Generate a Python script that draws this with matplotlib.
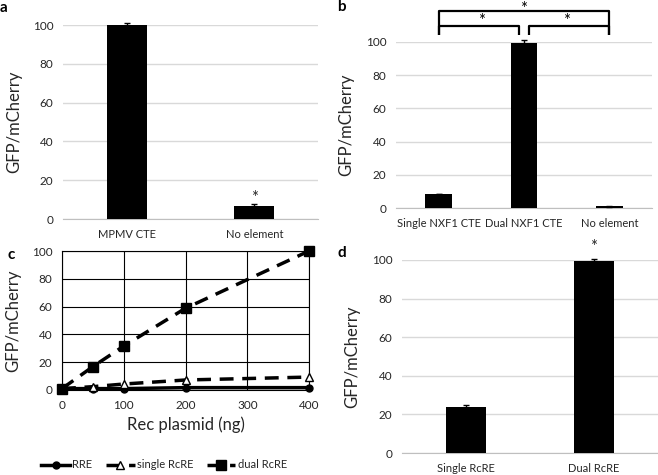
import matplotlib
matplotlib.use('Agg')
import matplotlib.pyplot as plt
import numpy as np

plt.rcParams['font.family'] = ['Lato', 'DejaVu Sans']

# Données des quatre panneaux
a_labels = ['MPMV CTE', 'No element']
a_values = [100, 6.5]
a_err = [0.8, 1.0]

b_labels = ['Single NXF1 CTE', 'Dual NXF1 CTE', 'No element']
b_values = [8.5, 99.5, 1.2]
b_err = [0.2, 1.5, 0.3]

c_x = [0, 50, 100, 200, 400]
c_rre = [1.0, 1.0, 1.0, 1.7, 1.7]
c_single = [1.0, 2.4, 4.3, 7.2, 9.3]
c_dual = [1.0, 16.8, 31.6, 58.8, 100]

d_labels = ['Single RcRE', 'Dual RcRE']
d_values = [23.7, 99.7]
d_err = [1.0, 0.8]

W, H = 658, 475
txt = '#262626'
grid_col = '#d9d9d9'


def box(left, right, top, bottom):
    return [left / W, 1 - bottom / H, (right - left) / W, (bottom - top) / H]


fig = plt.figure(figsize=(W / 100, H / 100), dpi=100)


def bar_panel(rect, labels, values, err):
    ax = fig.add_axes(rect)
    x = np.arange(len(labels))
    ax.bar(x, values, width=0.31, color='black', zorder=3)
    ax.errorbar(x, values, yerr=err, fmt='none', ecolor='black', elinewidth=1,
                capsize=2, capthick=1, zorder=4, clip_on=False)
    ax.set_xlim(-0.5, len(labels) - 0.5)
    ax.set_ylim(0, 100)
    ax.set_yticks([0, 20, 40, 60, 80, 100])
    ax.yaxis.grid(True, color=grid_col, linewidth=1, zorder=0)
    for s in ['top', 'right', 'left']:
        ax.spines[s].set_visible(False)
    ax.spines['bottom'].set_color('#bfbfbf')
    ax.set_xticks(x)
    ax.set_xticklabels(labels)
    ax.tick_params(length=0, labelsize=8, colors=txt, pad=7)
    ax.tick_params(axis='y', labelsize=8.5)
    ax.set_ylabel('GFP/mCherry', fontsize=12, color=txt)
    return ax


# Panneau a
ax_a = bar_panel(box(63, 318, 25, 219), a_labels, a_values, a_err)
ax_a.text(1, a_values[1] + a_err[1] + 3.5, '*', ha='center', va='center', fontsize=12, color=txt)
ax_a.yaxis.set_label_coords(-0.16, 0.5)

# Panneau b
ax_b = bar_panel(box(396, 652, 42, 208), b_labels, b_values, b_err)
ax_b.yaxis.set_label_coords(-0.165, 0.5)
kw = dict(color='black', linewidth=1.6, clip_on=False, solid_capstyle='butt')
ax_b.plot([0, 0, 2, 2], [104, 118.5, 118.5, 104], **kw)
ax_b.plot([0, 0, 0.94, 0.94], [104, 109.5, 109.5, 104], **kw)
ax_b.plot([1.06, 1.06, 2, 2], [104, 109.5, 109.5, 104], **kw)
# l'étoile du haut est collée au bord de la figure
fig.text((396 + 256 * 0.5) / W, 1 - 1 / H, '*', ha='center', va='top', fontsize=12)
ax_b.text(0.5, 112.5, '*', ha='center', va='center', fontsize=12, clip_on=False)
ax_b.text(1.5, 112.5, '*', ha='center', va='center', fontsize=12, clip_on=False)

# Panneau c
ax_c = fig.add_axes(box(62, 309, 251, 390))
lw = 2.5
ax_c.plot(c_x, c_rre, '-', color='black', lw=lw, marker='o', ms=5, label='RRE', zorder=3, clip_on=False)
ax_c.plot(c_x, c_single, '--', color='black', lw=lw, dashes=(4, 2.5), marker='^', ms=6,
          mfc='white', mec='black', mew=1, label='single RcRE', zorder=4, clip_on=False)
ax_c.plot(c_x, c_dual, '--', color='black', lw=lw, dashes=(4, 2.5), marker='s', ms=6.5,
          label='dual RcRE', zorder=5, clip_on=False)
ax_c.set_xlim(0, 400)
ax_c.set_ylim(0, 100)
ax_c.set_xticks([0, 100, 200, 300, 400])
ax_c.set_yticks([0, 20, 40, 60, 80, 100])
ax_c.grid(True, color='black', linewidth=0.8)
for s in ax_c.spines.values():
    s.set_linewidth(0.8)
ax_c.tick_params(length=0, labelsize=8.5, colors=txt, pad=7)
ax_c.set_ylabel('GFP/mCherry', fontsize=12, color=txt)
ax_c.yaxis.set_label_coords(-0.165, 0.5)
ax_c.set_xlabel('Rec plasmid (ng)', fontsize=12, color=txt, labelpad=4)
fig.legend(*ax_c.get_legend_handles_labels(), loc='center', bbox_to_anchor=(164 / W, 1 - 465 / H),
           ncol=3, frameon=False, fontsize=8, handlelength=2.6, columnspacing=1.2,
           handletextpad=0.2, labelcolor=txt)

# Panneau d
ax_d = bar_panel(box(402, 658, 260, 453), d_labels, d_values, d_err)
ax_d.yaxis.set_label_coords(-0.165, 0.5)
ax_d.text(1, d_values[1] + d_err[1] + 6, '*', ha='center', va='center', fontsize=12,
          color=txt, clip_on=False)

# Lettres des panneaux
for lab, (px, py) in zip('abcd', [(4, 8), (341, 7), (11, 255), (342, 253)]):
    fig.text(px / W, 1 - py / H, lab, fontsize=11, fontweight='bold', ha='center', va='center')

fig.savefig('out.png', dpi=100)
